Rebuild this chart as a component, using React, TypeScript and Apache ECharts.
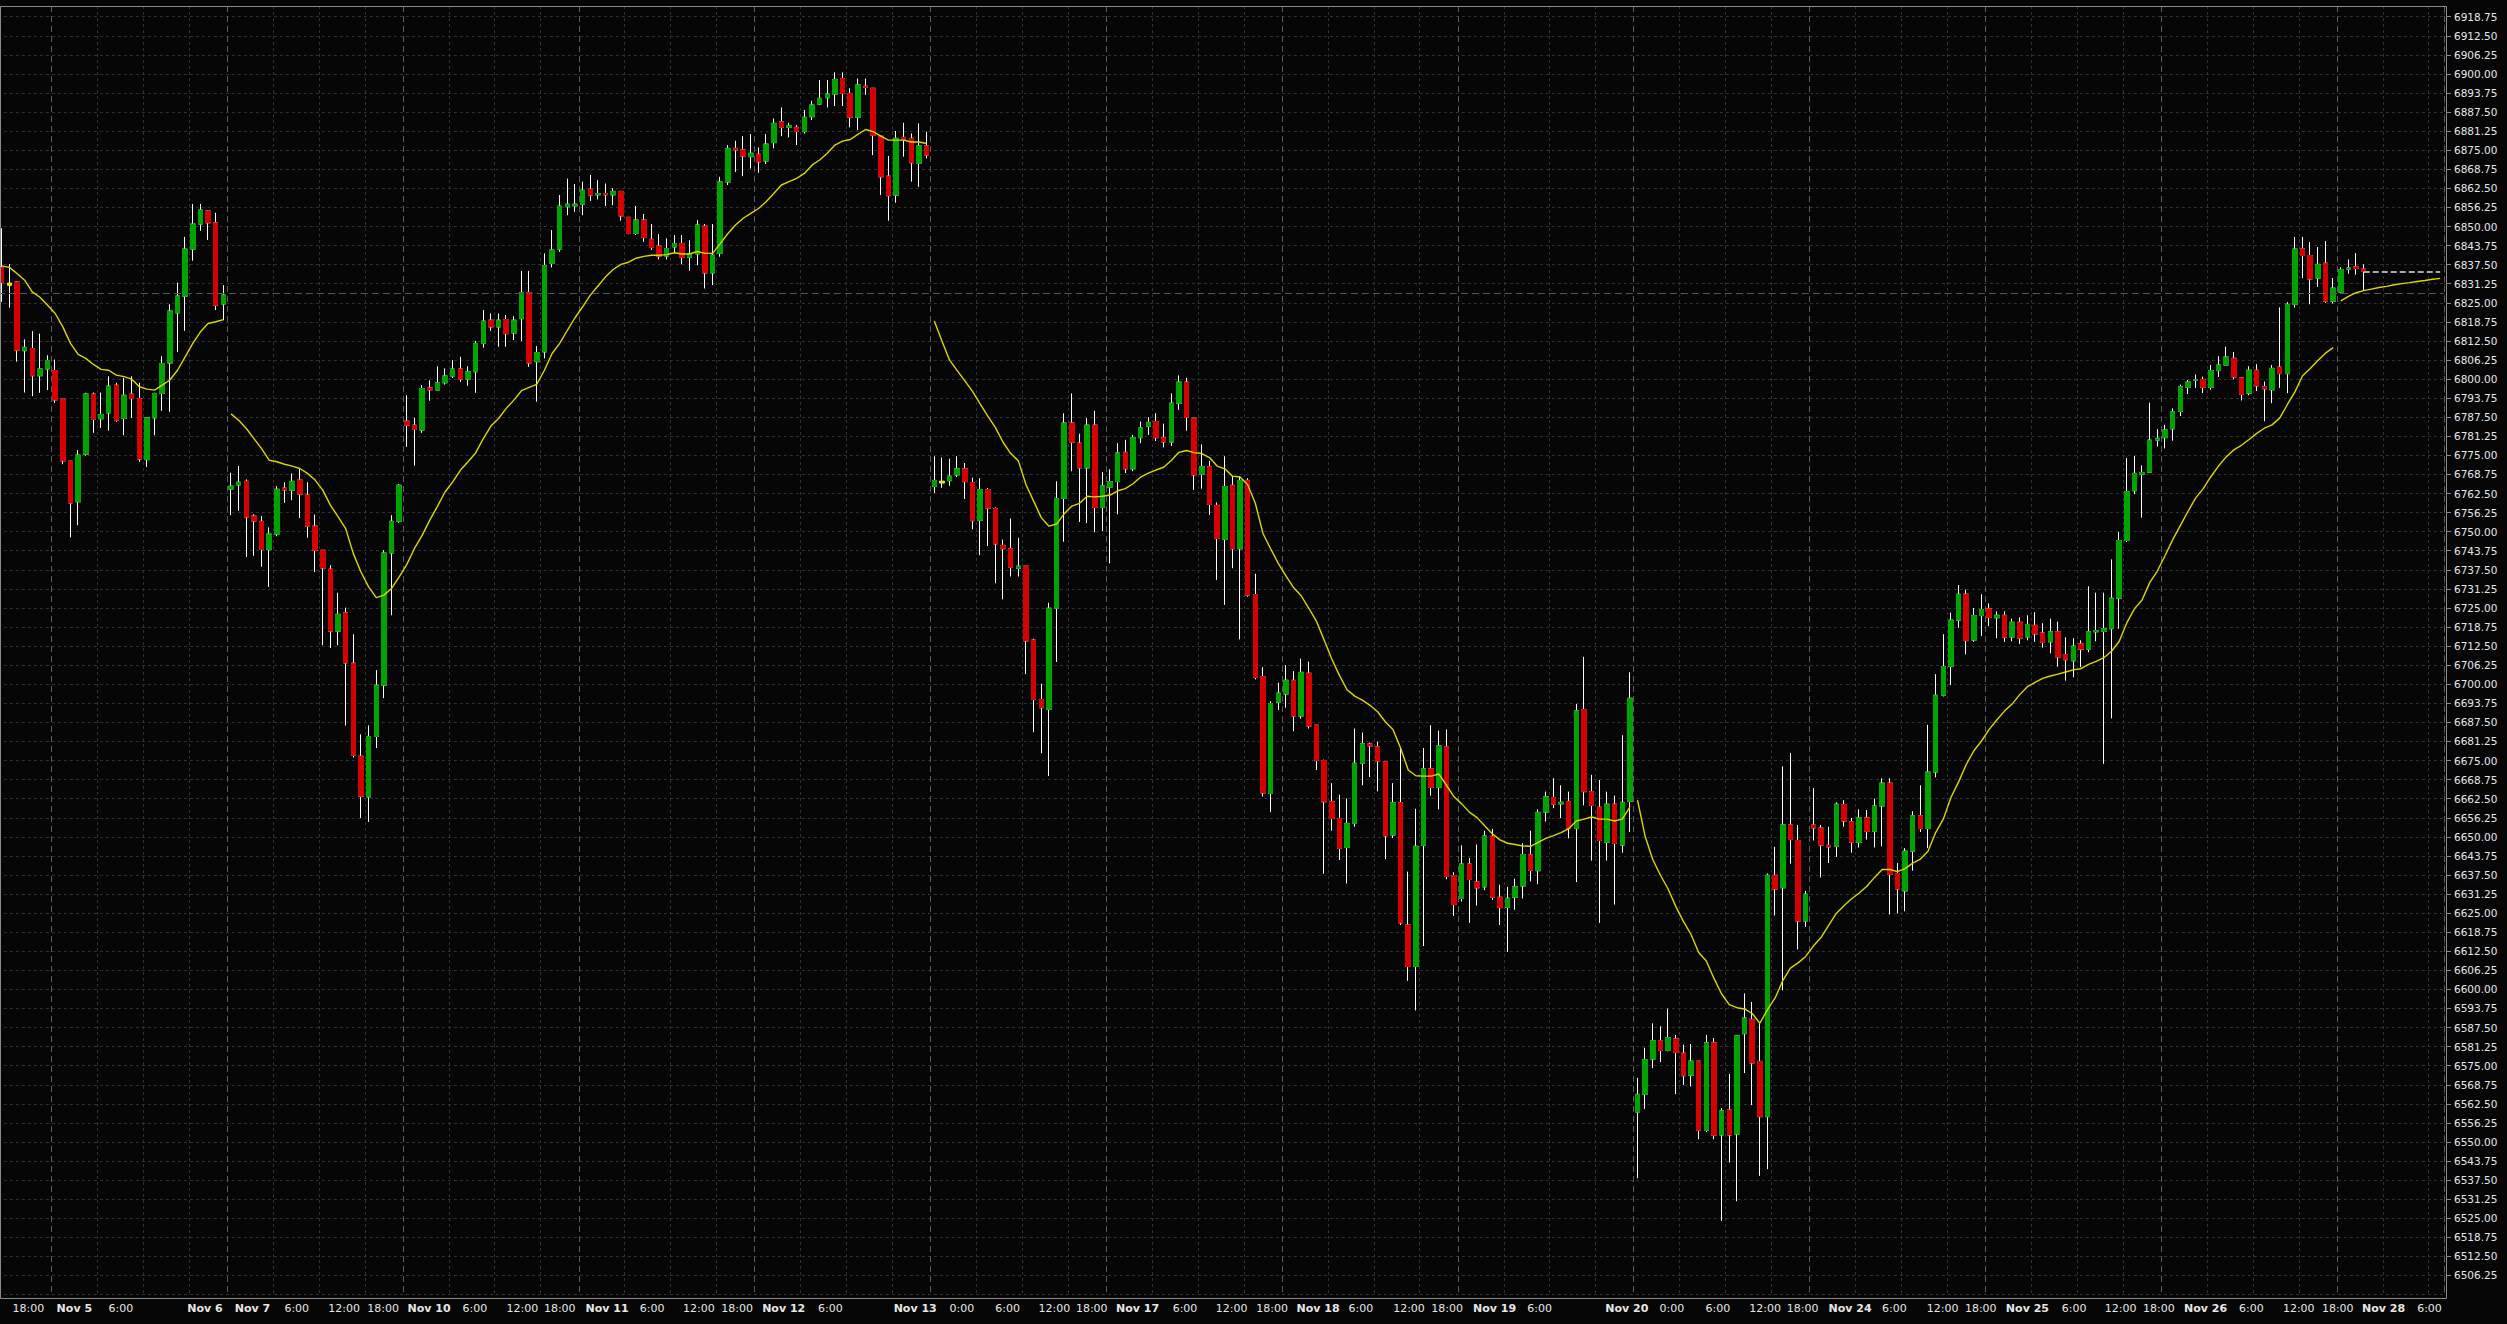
import React, { useEffect, useRef } from 'react';
import * as echarts from 'echarts';

// ---- candle data (hourly slots, index 0..309) ----
const opens = [
  6836.5, 6831.4, 6831.8, 6809.3, 6810.0, 6801.1, 6803.3, 6802.8, 6793.4, 6773.1, 6759.8, 6775.4, 6795.1, 6787.0, 6788.9, 6798.0, 6787.1, 6795.1, 6793.6, 6773.6, 6787.3, 6795.3, 6805.3, 6821.7, 6827.2, 6842.6, 6850.8, 6855.1, 6851.2, 6824.6,
  6764.0, 6765.3, 6766.5, 6755.1, 6753.4, 6744.1, 6749.2, 6764.3, 6763.6, 6766.9, 6762.0, 6751.8, 6743.9, 6737.7, 6717.4, 6723.4, 6706.9, 6676.4, 6663.1, 6682.9, 6699.7, 6743.0, 6753.4, 6786.2, 6784.9, 6783.3, 6797.1, 6796.4, 6798.8, 6801.0,
  6803.3, 6800.0, 6802.4, 6811.7, 6819.3, 6817.1, 6819.5, 6815.1, 6819.8, 6828.4, 6805.7, 6808.9, 6837.9, 6842.6, 6856.5, 6856.8, 6857.3, 6862.2, 6860.4, 6860.8, 6860.4, 6861.5, 6853.0, 6847.7, 6852.1, 6845.8, 6843.6, 6840.3, 6843.3, 6844.4,
  6839.9, 6841.0, 6850.1, 6834.8, 6841.2, 6864.6, 6875.6, 6875.1, 6872.9, 6873.7, 6871.5, 6877.5, 6884.3, 6882.5, 6882.5, 6881.1, 6886.0, 6890.1, 6892.2, 6893.4, 6898.5, 6893.6, 6885.8, 6896.0, 6895.3, 6879.6, 6866.5, 6860.3, 6879.2, 6878.9, 6870.7, 6876.4,
  6764.8, 6766.5, 6766.7, 6768.6, 6770.6, 6766.1, 6753.7, 6763.8, 6757.6, 6745.5, 6744.4, 6738.0, 6738.7, 6714.5, 6695.0, 6691.8, 6724.9, 6760.9, 6785.6, 6779.0, 6770.9, 6784.9, 6757.9, 6764.6, 6766.4, 6776.0, 6770.6, 6780.8, 6784.5, 6786.1,
  6780.8, 6779.4, 6792.1, 6799.0, 6787.2, 6768.8, 6771.3, 6758.6, 6747.5, 6765.2, 6744.4, 6766.8, 6729.4, 6702.5, 6664.2, 6694.1, 6696.8, 6701.3, 6689.6, 6703.6, 6686.6, 6675.0, 6661.5, 6656.0, 6646.5, 6654.4, 6674.1, 6680.4, 6679.5, 6674.6,
  6650.6, 6661.2, 6621.1, 6607.5, 6647.2, 6672.3, 6666.2, 6679.5, 6637.3, 6629.8, 6641.1, 6635.2, 6633.6, 6650.2, 6630.2, 6626.9, 6630.2, 6633.9, 6644.1, 6638.9, 6658.1, 6662.9, 6660.8, 6661.6, 6652.7, 6691.7, 6664.8, 6659.7, 6648.2, 6660.7, 6647.3, 6661.6,
  6559.8, 6565.6, 6577.2, 6583.2, 6580.0, 6583.8, 6579.1, 6571.9, 6576.5, 6553.8, 6582.5, 6552.3, 6560.5, 6552.6, 6585.5, 6590.2, 6576.4, 6558.3, 6637.4, 6633.3, 6653.9, 6648.8, 6622.4, 6653.9, 6652.9, 6647.2, 6646.9, 6660.6, 6654.9, 6648.2,
  6656.2, 6651.8, 6660.1, 6667.6, 6638.0, 6632.3, 6645.3, 6656.9, 6652.7, 6671.2, 6696.4,
  6705.8, 6721.0, 6729.5, 6714.5, 6722.5, 6724.7,
  6721.8, 6722.6, 6715.5, 6720.3, 6715.5, 6719.3, 6716.8, 6713.9, 6717.2, 6709.7, 6707.7, 6713.2, 6711.5, 6717.2, 6717.3, 6718.2, 6728.2, 6747.1, 6763.4, 6768.8, 6769.5, 6780.0, 6780.8, 6783.7, 6789.4, 6797.3, 6799.6, 6799.9, 6797.3, 6802.8,
  6804.6, 6806.8, 6800.4, 6795.4, 6802.9, 6797.5, 6796.5, 6803.9, 6801.8, 6824.5, 6842.7, 6840.5, 6833.1, 6838.0, 6825.5, 6828.5, 6836.0, 6836.8, 6836.1,
];
const closes = [
  6831.6, 6830.8, 6809.5, 6810.4, 6801.1, 6803.3, 6806.1, 6793.2, 6773.2, 6759.4, 6775.1, 6795.1, 6786.8, 6788.4, 6797.7, 6786.5, 6794.7, 6793.6, 6773.8, 6787.3, 6795.3, 6805.1, 6822.3, 6827.2, 6842.6, 6850.8, 6855.4, 6851.2, 6824.2, 6827.5,
  6764.9, 6766.2, 6754.8, 6753.5, 6744.2, 6749.2, 6763.9, 6763.7, 6766.5, 6762.3, 6751.8, 6743.9, 6738.1, 6717.4, 6722.9, 6707.0, 6676.7, 6663.3, 6682.9, 6699.7, 6743.0, 6753.4, 6765.2, 6784.9, 6783.5, 6796.9, 6796.5, 6798.8, 6801.0, 6803.3,
  6800.0, 6802.4, 6811.7, 6819.0, 6817.1, 6819.3, 6814.9, 6819.3, 6828.4, 6805.3, 6808.7, 6837.2, 6842.3, 6856.7, 6857.3, 6857.3, 6861.9, 6860.3, 6860.8, 6860.4, 6861.5, 6853.5, 6847.7, 6852.1, 6846.4, 6843.1, 6840.3, 6842.8, 6844.4, 6839.9,
  6841.0, 6850.5, 6834.8, 6840.6, 6864.6, 6875.6, 6875.1, 6873.1, 6874.0, 6871.2, 6877.0, 6883.8, 6882.5, 6883.0, 6881.1, 6885.8, 6889.8, 6892.0, 6893.4, 6898.2, 6893.6, 6885.8, 6896.4, 6895.6, 6879.9, 6866.3, 6860.1, 6878.9, 6878.5, 6870.9, 6876.4, 6873.4,
  6766.8, 6766.0, 6768.2, 6770.6, 6766.4, 6753.6, 6763.8, 6757.7, 6746.0, 6744.4, 6738.3, 6738.7, 6714.2, 6695.0, 6692.3, 6724.9, 6760.9, 6785.6, 6779.3, 6770.9, 6784.9, 6757.9, 6765.0, 6766.4, 6775.8, 6770.6, 6780.8, 6784.0, 6785.8, 6780.8,
  6779.4, 6792.1, 6799.0, 6787.5, 6768.6, 6771.3, 6758.9, 6747.8, 6764.8, 6744.4, 6766.8, 6729.2, 6702.2, 6664.4, 6693.7, 6697.1, 6701.3, 6689.6, 6703.9, 6686.3, 6675.0, 6661.5, 6656.0, 6646.2, 6654.4, 6674.1, 6680.5, 6679.8, 6674.8, 6650.3,
  6661.2, 6621.8, 6607.5, 6646.9, 6672.3, 6666.2, 6679.8, 6637.0, 6627.8, 6641.1, 6636.0, 6633.3, 6650.3, 6630.2, 6626.8, 6629.9, 6633.6, 6644.2, 6639.0, 6658.0, 6663.1, 6660.7, 6661.3, 6652.7, 6691.3, 6664.8, 6660.3, 6648.8, 6660.7, 6647.8, 6661.3, 6695.4,
  6565.6, 6577.0, 6583.2, 6580.0, 6584.2, 6579.3, 6571.7, 6576.5, 6553.8, 6582.5, 6552.2, 6560.2, 6552.3, 6584.8, 6590.6, 6575.9, 6558.3, 6637.4, 6632.9, 6653.9, 6649.1, 6622.4, 6631.2, 6652.9, 6647.3, 6646.7, 6660.7, 6655.2, 6648.2, 6656.2,
  6651.8, 6660.1, 6667.6, 6637.7, 6632.9, 6645.3, 6656.9, 6652.7, 6671.2, 6696.4, 6705.8,
  6721.0, 6729.5, 6714.3, 6722.5, 6724.5, 6721.9,
  6722.6, 6715.4, 6720.3, 6715.1, 6719.6, 6716.5, 6713.7, 6717.2, 6708.9, 6708.0, 6712.5, 6711.5, 6717.2, 6717.6, 6718.2, 6728.2, 6747.1, 6763.1, 6769.1, 6769.4, 6780.0, 6780.6, 6783.3, 6789.3, 6797.5, 6799.0, 6799.7, 6797.3, 6802.8, 6804.6,
  6807.2, 6800.7, 6795.0, 6802.9, 6797.8, 6796.8, 6803.5, 6801.8, 6824.5, 6842.6, 6840.5, 6832.8, 6837.6, 6825.5, 6829.8, 6835.9, 6836.4, 6836.2, 6835.3,
];
const lows = [
  6825.3, 6823.4, 6805.7, 6795.6, 6794.4, 6795.5, 6796.4, 6792.2, 6772.1, 6748.1, 6752.1, 6774.9, 6782.4, 6784.0, 6783.1, 6786.0, 6781.6, 6787.3, 6772.9, 6771.2, 6781.6, 6789.6, 6789.3, 6808.9, 6815.8, 6838.8, 6848.6, 6845.6, 6822.6, 6819.3,
  6755.4, 6756.8, 6741.7, 6742.1, 6738.5, 6731.9, 6748.5, 6759.4, 6760.3, 6754.5, 6748.0, 6736.8, 6712.8, 6711.9, 6712.8, 6686.5, 6676.0, 6656.2, 6654.9, 6679.1, 6695.5, 6722.6, 6752.9, 6777.8, 6771.6, 6782.4, 6792.9, 6796.4, 6798.2, 6800.4,
  6799.1, 6797.8, 6795.5, 6810.3, 6815.8, 6810.6, 6810.6, 6812.8, 6812.5, 6804.0, 6792.6, 6806.8, 6836.6, 6841.7, 6853.7, 6854.8, 6853.7, 6858.4, 6858.9, 6856.7, 6857.0, 6851.9, 6847.5, 6847.2, 6845.0, 6842.3, 6839.2, 6839.2, 6841.2, 6837.6,
  6835.5, 6837.3, 6829.7, 6830.8, 6840.1, 6863.6, 6867.9, 6866.5, 6869.0, 6867.6, 6870.5, 6875.6, 6879.6, 6879.2, 6876.7, 6880.5, 6884.9, 6889.8, 6889.0, 6889.5, 6889.5, 6882.5, 6881.6, 6893.1, 6873.4, 6860.3, 6851.9, 6857.8, 6872.9, 6864.7, 6863.0, 6872.3,
  6762.7, 6764.4, 6765.0, 6767.9, 6760.7, 6750.8, 6742.3, 6745.3, 6733.1, 6727.8, 6735.3, 6735.3, 6703.3, 6684.3, 6677.4, 6669.9, 6707.3, 6746.7, 6769.8, 6753.2, 6752.8, 6749.8, 6750.2, 6739.6, 6755.7, 6769.2, 6769.8, 6779.0, 6781.7, 6779.7,
  6777.6, 6778.1, 6789.9, 6783.1, 6763.7, 6764.1, 6755.5, 6734.2, 6726.0, 6738.0, 6714.7, 6728.7, 6701.6, 6663.2, 6658.1, 6691.6, 6692.3, 6684.6, 6688.7, 6685.5, 6671.9, 6637.9, 6652.0, 6642.4, 6634.7, 6653.3, 6666.9, 6669.6, 6664.9, 6642.7,
  6649.6, 6621.1, 6602.8, 6593.1, 6614.2, 6663.5, 6659.0, 6636.1, 6624.1, 6628.8, 6621.8, 6627.5, 6632.5, 6629.3, 6621.1, 6612.3, 6626.1, 6629.8, 6635.4, 6634.5, 6655.0, 6659.4, 6656.2, 6649.5, 6635.2, 6660.3, 6642.2, 6621.8, 6642.2, 6627.8, 6644.8, 6651.6,
  6538.1, 6560.8, 6574.2, 6576.2, 6579.7, 6565.7, 6568.7, 6568.2, 6550.9, 6553.2, 6550.9, 6524.1, 6543.3, 6530.6, 6572.6, 6562.1, 6538.9, 6541.1, 6624.2, 6599.7, 6641.2, 6613.1, 6620.5, 6648.8, 6636.7, 6641.4, 6643.4, 6653.3, 6644.8, 6646.5,
  6649.1, 6646.5, 6646.9, 6624.6, 6624.9, 6625.6, 6638.9, 6651.6, 6646.3, 6669.5, 6696.0,
  6699.8, 6718.5, 6709.8, 6713.9, 6715.8, 6719.0,
  6715.1, 6713.9, 6714.1, 6713.2, 6714.4, 6713.9, 6712.0, 6710.1, 6705.8, 6701.2, 6702.3, 6705.6, 6710.5, 6714.1, 6673.9, 6688.8, 6718.2, 6746.6, 6762.3, 6754.6, 6769.4, 6777.9, 6777.3, 6779.8, 6787.9, 6795.1, 6797.1, 6795.4, 6796.5, 6800.7,
  6804.6, 6799.9, 6793.0, 6794.7, 6796.1, 6786.2, 6792.1, 6797.1, 6795.4, 6823.4, 6833.1, 6824.5, 6830.2, 6825.0, 6824.8, 6828.1, 6834.5, 6834.2, 6829.1,
];
const highs = [
  6849.4, 6837.7, 6832.0, 6813.0, 6815.7, 6814.9, 6807.8, 6806.4, 6793.5, 6773.2, 6776.7, 6795.5, 6795.6, 6795.6, 6800.9, 6798.8, 6800.4, 6800.9, 6798.8, 6787.5, 6795.5, 6807.5, 6824.5, 6831.6, 6846.6, 6857.4, 6857.4, 6855.3, 6854.5, 6830.8,
  6769.3, 6771.5, 6767.1, 6755.7, 6755.1, 6751.4, 6764.9, 6766.2, 6769.1, 6770.7, 6766.2, 6755.6, 6744.0, 6739.0, 6730.0, 6725.1, 6716.4, 6683.6, 6686.5, 6704.6, 6743.9, 6755.4, 6765.6, 6794.7, 6787.3, 6798.0, 6799.6, 6804.2, 6803.5, 6806.2,
  6807.3, 6804.2, 6812.5, 6822.6, 6821.5, 6821.5, 6821.0, 6820.6, 6835.4, 6835.4, 6810.8, 6841.2, 6848.8, 6860.3, 6865.7, 6863.9, 6864.7, 6866.9, 6865.2, 6864.1, 6862.6, 6861.6, 6853.0, 6856.7, 6854.1, 6850.8, 6847.5, 6846.1, 6847.2, 6847.2,
  6845.5, 6852.1, 6850.8, 6850.8, 6866.3, 6876.7, 6878.1, 6879.6, 6880.3, 6875.9, 6880.3, 6885.4, 6889.0, 6884.0, 6883.2, 6888.2, 6891.2, 6898.0, 6898.0, 6900.5, 6900.5, 6895.3, 6898.5, 6898.5, 6895.4, 6879.7, 6873.1, 6881.3, 6884.0, 6880.5, 6883.8, 6881.1,
  6774.7, 6774.3, 6773.9, 6774.7, 6772.5, 6767.7, 6767.5, 6764.3, 6758.0, 6747.4, 6754.3, 6748.0, 6738.7, 6714.9, 6700.2, 6726.7, 6766.5, 6788.8, 6795.3, 6782.1, 6787.2, 6789.6, 6769.5, 6770.4, 6779.0, 6780.1, 6781.7, 6786.1, 6787.5, 6788.8,
  6785.4, 6795.3, 6801.2, 6800.4, 6787.2, 6778.6, 6773.2, 6759.6, 6774.7, 6768.2, 6768.2, 6767.5, 6736.2, 6705.6, 6694.5, 6700.5, 6706.3, 6704.3, 6708.4, 6707.4, 6686.6, 6675.3, 6667.6, 6663.8, 6662.6, 6685.5, 6684.2, 6680.9, 6681.2, 6674.6,
  6667.6, 6679.1, 6638.6, 6659.2, 6679.1, 6686.6, 6684.8, 6685.2, 6638.4, 6647.2, 6643.1, 6647.5, 6652.0, 6652.6, 6634.3, 6633.6, 6636.3, 6647.9, 6652.0, 6659.0, 6664.8, 6669.2, 6666.9, 6664.8, 6693.5, 6709.0, 6670.3, 6668.6, 6664.8, 6663.5, 6683.3, 6703.9,
  6571.0, 6580.9, 6588.9, 6587.9, 6593.7, 6585.1, 6581.9, 6582.1, 6576.5, 6585.1, 6584.1, 6561.1, 6572.3, 6585.1, 6598.7, 6595.9, 6588.9, 6638.0, 6646.7, 6673.1, 6677.5, 6653.9, 6632.3, 6666.0, 6653.9, 6653.3, 6661.3, 6662.0, 6656.2, 6659.0,
  6658.8, 6662.5, 6669.2, 6669.2, 6641.4, 6646.3, 6658.4, 6666.9, 6686.7, 6703.3, 6716.4,
  6723.5, 6732.5, 6731.0, 6725.0, 6729.5, 6726.5,
  6723.9, 6723.9, 6721.5, 6721.9, 6722.6, 6723.6, 6720.0, 6721.5, 6720.5, 6715.4, 6715.1, 6714.4, 6732.1, 6730.0, 6730.0, 6740.9, 6749.9, 6774.1, 6774.8, 6771.7, 6792.3, 6783.6, 6785.0, 6790.4, 6798.2, 6799.7, 6801.5, 6800.8, 6804.6, 6807.5,
  6810.6, 6808.9, 6800.7, 6804.2, 6804.9, 6799.2, 6804.6, 6823.5, 6825.2, 6846.6, 6846.6, 6844.9, 6843.3, 6845.2, 6833.1, 6836.6, 6839.2, 6841.3, 6837.6,
];
// candles drawn as yellow flat marks
const yellowMarks = [1, 123];

// ---- moving average, one array per data segment ----
const maSeg1Start = 0;
const maSeg1 = [6837.1, 6836.6, 6834.6, 6832.4, 6828.6, 6826.8, 6824.2, 6821.5, 6817.1, 6811.7, 6808.1, 6806.8, 6804.8, 6803.2, 6802.9, 6801.3, 6800.8, 6800.0, 6797.5, 6796.7, 6796.4, 6798.0, 6799.7, 6802.9, 6807.3, 6811.7, 6815.5, 6818.2, 6818.8, 6819.5];
const maSeg2Start = 30;
const maSeg2 = [
  6788.6, 6786.5, 6783.8, 6780.5, 6777.2, 6773.4, 6772.9, 6772.1, 6771.5, 6770.7,
  6769.1, 6766.9, 6763.6, 6758.7, 6754.9, 6751.0, 6742.8, 6736.8, 6731.9, 6728.4,
  6729.2, 6731.4, 6735.2, 6739.3, 6744.5, 6748.8, 6753.8, 6758.3, 6763.0, 6766.3,
  6770.1, 6772.9, 6775.8, 6780.5, 6784.6, 6787.1, 6790.4, 6793.1, 6796.2, 6797.3,
  6798.3, 6802.9, 6808.4, 6811.7, 6816.0, 6820.1, 6823.7, 6827.5, 6830.5, 6833.5,
  6835.9, 6837.6, 6838.3, 6839.6, 6840.2, 6840.6, 6840.6, 6840.8, 6841.4, 6841.0,
  6841.0, 6841.8, 6841.2, 6841.2, 6844.4, 6847.7, 6850.5, 6852.7, 6854.3, 6855.9,
  6858.1, 6860.8, 6863.6, 6864.7, 6865.8, 6867.4, 6870.1, 6871.8, 6874.0, 6876.7,
  6878.0, 6878.5, 6880.2, 6881.8, 6881.1, 6879.6, 6878.3, 6878.3, 6878.3, 6877.7,
  6877.7, 6877.2,
];
const maSeg3Start = 122;
const maSeg3 = [
  6819.0, 6812.5, 6806.2, 6802.8, 6799.4, 6796.0, 6791.9, 6787.9, 6784.1, 6779.3,
  6775.6, 6773.2, 6765.4, 6760.0, 6754.6, 6751.8, 6752.5, 6755.9, 6758.4, 6759.3,
  6761.6, 6761.4, 6761.6, 6762.0, 6763.4, 6764.1, 6765.7, 6767.9, 6769.2, 6770.2,
  6771.1, 6773.3, 6776.0, 6776.6, 6775.9, 6775.6, 6774.3, 6771.5, 6770.6, 6768.2,
  6767.9, 6765.4, 6759.3, 6749.4, 6744.4, 6739.6, 6735.5, 6731.7, 6729.0, 6724.9,
  6720.6, 6714.5, 6708.3, 6702.9, 6698.2, 6696.1, 6694.8, 6693.1, 6691.0, 6687.7,
  6685.2, 6679.1, 6671.9, 6670.0, 6669.9, 6669.9, 6670.6, 6666.9, 6663.1, 6660.8,
  6658.1, 6656.3, 6653.6, 6651.0, 6649.0, 6647.9, 6647.5, 6647.0, 6646.9, 6648.2,
  6649.5, 6650.4, 6651.4, 6652.7, 6655.2, 6655.8, 6656.5, 6655.8, 6655.8, 6655.2,
  6655.8, 6659.7,
];
const maSeg4Start = 214;
const maSeg4 = [
  6662.0, 6650.1, 6642.5, 6637.4, 6632.9, 6627.2, 6622.3, 6618.0, 6612.1, 6609.3,
  6603.6, 6598.5, 6595.0, 6594.0, 6593.6, 6592.1, 6588.9, 6593.4, 6597.2, 6602.9,
  6607.0, 6608.7, 6610.8, 6614.2, 6617.0, 6621.0, 6624.9, 6627.4, 6629.7, 6631.6,
  6633.8, 6636.7, 6639.3, 6639.3, 6638.6, 6639.6, 6641.4, 6642.7, 6645.3, 6651.4,
  6655.8, 6662.9, 6668.0, 6673.7, 6678.2, 6681.4, 6685.2, 6688.3, 6691.2, 6693.5,
  6696.6, 6699.2, 6700.6, 6701.9, 6702.7, 6703.3, 6704.0, 6704.7, 6705.1, 6706.5,
  6707.5, 6708.7, 6710.8, 6714.0, 6720.1, 6724.7, 6727.6, 6733.3, 6737.1, 6742.1,
  6747.3, 6752.0, 6756.6, 6761.0, 6764.1, 6768.0, 6771.5, 6774.5, 6776.8, 6778.3,
  6780.2, 6782.2, 6783.9, 6785.0, 6787.2, 6791.6, 6795.8, 6801.1, 6803.5, 6806.1,
  6808.5, 6810.3,
];
const maSeg5Start = 306;
const maSeg5 = [6825.6, 6827.1, 6828.3, 6829.0, 6829.5, 6830.0, 6830.4, 6830.9, 6831.3, 6831.6, 6832.0, 6832.3, 6832.7, 6833.0];

// ---- axis texts ----
const xLabelText = ['18:00', 'Nov 5', '6:00', 'Nov 6', 'Nov 7', '6:00', '12:00', '18:00', 'Nov 10', '6:00', '12:00', '18:00', 'Nov 11', '6:00', '12:00', '18:00', 'Nov 12', '6:00', 'Nov 13', '0:00', '6:00', '12:00', '18:00', 'Nov 17', '6:00', '12:00', '18:00', 'Nov 18', '6:00', '12:00', '18:00', 'Nov 19', '6:00', 'Nov 20', '0:00', '6:00', '12:00', '18:00', 'Nov 24', '6:00', '12:00', '18:00', 'Nov 25', '6:00', '12:00', '18:00', 'Nov 26', '6:00', '12:00', '18:00', 'Nov 28', '6:00'];
const xLabelSlot = [3.5, 9.5, 15.6, 26.6, 32.8, 38.6, 44.8, 49.9, 55.9, 61.9, 68.1, 73.0, 79.2, 85.1, 91.2, 96.2, 102.3, 108.4, 119.5, 125.6, 131.6, 137.7, 142.6, 148.6, 154.8, 160.9, 166.2, 172.2, 177.8, 184.1, 189.1, 195.3, 201.2, 212.6, 218.5, 224.5, 230.7, 235.6, 241.8, 247.6, 253.9, 258.9, 265.0, 271.1, 277.2, 282.2, 288.3, 294.3, 300.5, 305.6, 311.6, 317.6];
const yMin = 6500;
const yMax = 6922.26;
const yStep = 6.25;
const refLevel = 6828;

// ---- layout constants ----
const SLOTS = 320;
const GRID_LEFT = -2.12;
const GRID_RIGHT = 63;
const GRID_TOP = 6;
const GRID_BOTTOM = 29.43;
const W = 2507;
const H = 1324;
const SESSION_FIRST = 7;
const SESSION_LEN = 23;
const BLOCK_OFFSETS = [6, 12, 18];

const UP = '#00a200';
const DOWN = '#d50000';
const FONT = 'DejaVu Sans';

export default function App() {
  const ref = useRef<HTMLDivElement>(null);

  useEffect(() => {
    if (!ref.current) return;
    const chart = echarts.init(ref.current, undefined, { renderer: 'svg' });

    const cats = Array.from({ length: SLOTS }, (_, i) => String(i));
    const pitch = (W - GRID_RIGHT - GRID_LEFT) / SLOTS;

    const wickData = opens.map((o, i) => [o, closes[i], lows[i], highs[i]]);
    const bodyData = opens.map((o, i) => {
      const c = closes[i];
      const v = [o, c, Math.min(o, c), Math.max(o, c)];
      if (yellowMarks.includes(i)) {
        return {
          value: v,
          itemStyle: { color: '#e6e600', color0: '#e6e600', borderColor: '#e6e600', borderColor0: '#e6e600' },
        };
      }
      return v;
    });

    const segSeries = (seg: number[], start: number) => ({
      type: 'line',
      data: cats.map((_, i) => (i >= start && i < start + seg.length ? seg[i - start] : '-')),
      symbol: 'none',
      showSymbol: false,
      connectNulls: false,
      lineStyle: { color: '#d8d800', width: 1.4 },
      z: 5,
      silent: true,
    });

    const labelAt = new Map<number, number>();
    const rich: Record<string, any> = {};
    xLabelSlot.forEach((p, i) => {
      const cat = Math.round(p);
      labelAt.set(cat, i);
      const shift = (p - cat) * pitch;
      rich['l' + i] = {
        fontFamily: FONT,
        fontSize: 11,
        color: '#e6e6e6',
        fontWeight: xLabelText[i].startsWith('Nov') ? 'bold' : 'normal',
        padding: shift >= 0 ? [0, 0, 0, 2 * shift] : [0, -2 * shift, 0, 0],
      };
    });

    const isMajor = (i: number) => i >= SESSION_FIRST && (i - SESSION_FIRST) % SESSION_LEN === 0;
    const isMinor = (i: number) => i >= SESSION_FIRST && BLOCK_OFFSETS.includes((i - SESSION_FIRST) % SESSION_LEN);

    const lastIdx = opens.length - 1;
    const lastClose = closes[lastIdx];

    const option: any = {
      animation: false,
      backgroundColor: '#060606',
      grid: {
        left: GRID_LEFT,
        right: GRID_RIGHT,
        top: GRID_TOP,
        bottom: GRID_BOTTOM,
        containLabel: false,
        outerBoundsMode: 'none',
        show: false,
      },
      xAxis: [
        {
          type: 'category',
          data: cats,
          boundaryGap: true,
          offset: 4.4,
          axisLine: { show: false },
          axisTick: { show: false },
          axisLabel: {
            interval: 0,
            hideOverlap: false,
            margin: 4,
            fontFamily: FONT,
            fontSize: 11,
            color: '#e6e6e6',
            formatter: (_v: string, idx: number) => {
              const k = labelAt.get(idx);
              return k === undefined ? '' : `{l${k}|${xLabelText[k]}}`;
            },
            rich,
          },
          splitLine: {
            show: true,
            interval: (i: number) => isMinor(i),
            lineStyle: { color: '#303030', type: [3, 3], width: 1 },
          },
        },
        {
          type: 'category',
          data: cats,
          boundaryGap: true,
          position: 'top',
          axisLine: { show: false },
          axisTick: { show: false },
          axisLabel: { show: false },
          splitLine: {
            show: true,
            interval: (i: number) => isMajor(i),
            lineStyle: { color: '#5c5c5c', type: [6, 4], width: 1 },
          },
        },
      ],
      yAxis: {
        type: 'value',
        position: 'right',
        offset: 3,
        min: yMin,
        max: yMax,
        interval: yStep,
        axisLine: { show: false },
        axisTick: { show: true, length: 4, lineStyle: { color: '#8a8a8a' } },
        axisLabel: {
          color: '#e6e6e6',
          fontFamily: FONT,
          fontSize: 10.5,
          margin: 7,
          showMinLabel: false,
          showMaxLabel: false,
          formatter: (v: number) => v.toFixed(2),
        },
        splitLine: { show: true, lineStyle: { color: '#303030', type: [3, 3], width: 1 } },
      },
      series: [
        {
          type: 'candlestick',
          data: wickData,
          barWidth: 5,
          silent: true,
          z: 2,
          itemStyle: { color: '#ffffff', color0: '#ffffff', borderColor: '#ffffff', borderColor0: '#ffffff', borderWidth: 1 },
        },
        {
          type: 'candlestick',
          data: bodyData,
          barWidth: 5,
          silent: true,
          z: 3,
          itemStyle: { color: UP, color0: DOWN, borderColor: UP, borderColor0: DOWN, borderWidth: 1 },
          markLine: {
            silent: true,
            symbol: ['none', 'none'],
            label: { show: false },
            animation: false,
            data: [
              { yAxis: refLevel, lineStyle: { color: '#555555', type: [7, 4], width: 1 } },
              [
                { xAxis: String(lastIdx), yAxis: lastClose, lineStyle: { color: '#a8a8a8', type: [6, 3], width: 2 } },
                { xAxis: String(SLOTS - 1), yAxis: lastClose },
              ],
            ],
          },
        },
        segSeries(maSeg1, maSeg1Start),
        segSeries(maSeg2, maSeg2Start),
        segSeries(maSeg3, maSeg3Start),
        segSeries(maSeg4, maSeg4Start),
        segSeries(maSeg5, maSeg5Start),
      ],
      graphic: [
        {
          type: 'rect',
          z: 100,
          silent: true,
          shape: { x: 0.5, y: 6.5, width: 2446, height: 1292 },
          style: { fill: 'none', stroke: '#8a8a8a', lineWidth: 1 },
        },
      ],
    };

    chart.setOption(option);
    return () => chart.dispose();
  }, []);

  return (
    <div
      ref={ref}
      style={{ position: 'fixed', left: 0, top: 0, width: W, height: H, background: '#060606' }}
    />
  );
}
